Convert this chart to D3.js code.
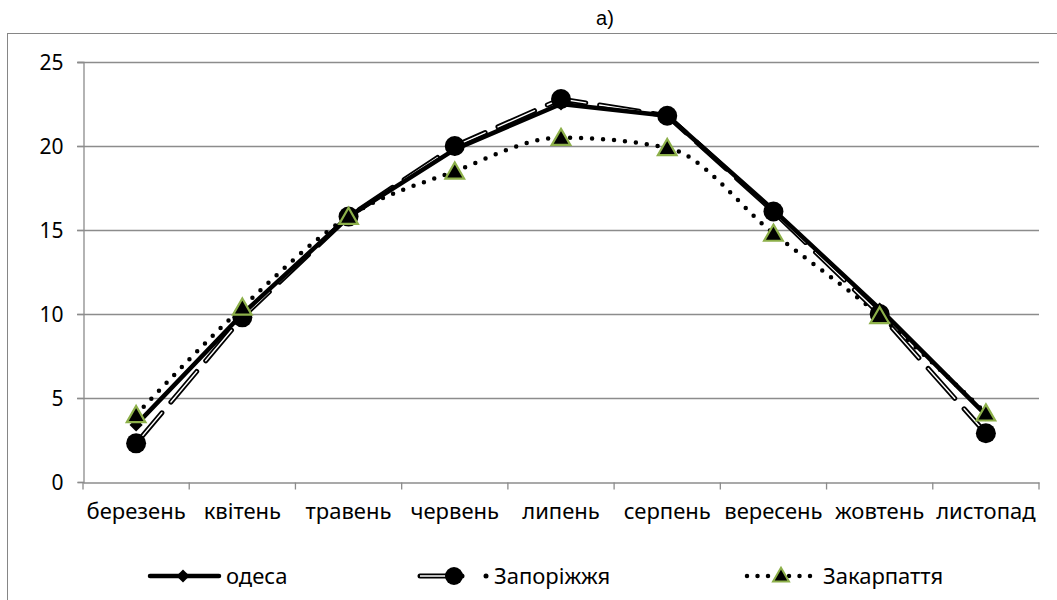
<!DOCTYPE html>
<html lang="uk">
<head>
<meta charset="UTF-8">
<title>а)</title>
<script src="https://cdnjs.cloudflare.com/ajax/libs/d3/7.8.5/d3.min.js"></script>
<style>
  body { margin: 0; background: #fff; }
  text { font-family: "Noto Sans", "Open Sans", sans-serif; fill: #000; }
</style>
</head>
<body>
<script>
    // chart data
    var months = ["березень", "квітень", "травень", "червень", "липень", "серпень", "вересень", "жовтень", "листопад"];
    var odesa = [3.4, 10.0, 15.8, 19.8, 22.5, 21.8, 16.2, 10.3, 4.0];
    var zaporizhzhia = [2.3, 9.8, 15.8, 20.0, 22.8, 21.8, 16.1, 10.0, 2.9];
    var zakarpattia = [4.0, 10.4, 15.8, 18.5, 20.5, 19.9, 14.8, 9.9, 4.1];
    var yTicks = [0, 5, 10, 15, 20, 25];

    var width = 1057, height = 600;
    var svg = d3.select("body").append("svg")
        .attr("width", width)
        .attr("height", height);

    // outer chart border
    svg.append("rect")
        .attr("x", 7.5).attr("y", 33.5)
        .attr("width", 1060).attr("height", 580)
        .attr("fill", "none").attr("stroke", "#868686").attr("stroke-width", 1);

    // title
    svg.append("text")
        .attr("x", 605).attr("y", 25)
        .attr("text-anchor", "middle")
        .style("font-family", "'Liberation Sans', Arial, sans-serif")
        .style("font-size", "20px")
        .text("а)");

    var plotLeft = 83, plotRight = 1039, plotTop = 62, plotBottom = 482;

    var x = d3.scaleBand().domain(months).range([plotLeft, plotRight]);
    var y = d3.scaleLinear().domain([0, 25]).range([plotBottom, plotTop]);

    // grid
    svg.append("g").selectAll("line")
        .data(yTicks.filter(function (d) { return d > 0; }))
        .enter().append("line")
        .attr("x1", plotLeft - 6).attr("x2", plotRight)
        .attr("y1", function (d) { return Math.round(y(d)) + 0.5; })
        .attr("y2", function (d) { return Math.round(y(d)) + 0.5; })
        .attr("stroke", "#8c8c8c").attr("stroke-width", 1.3);

    // y axis
    var yAxis = svg.append("g")
        .attr("transform", "translate(" + (plotLeft + 0.5) + ",0)")
        .call(d3.axisLeft(y).tickValues(yTicks).tickSize(6).tickPadding(14));
    yAxis.select(".domain").attr("stroke", "#8c8c8c").attr("stroke-width", 1.3);
    yAxis.selectAll(".tick line").attr("stroke", "#8c8c8c").attr("stroke-width", 1.3);
    yAxis.selectAll("text").style("font-size", "21px").attr("dy", "0.35em");

    // x axis
    var xAxis = svg.append("g")
        .attr("transform", "translate(0," + (plotBottom + 0.5) + ")")
        .call(d3.axisBottom(x).tickSize(0).tickPadding(21));
    xAxis.select(".domain").attr("stroke", "#8c8c8c").attr("stroke-width", 1.3);
    xAxis.selectAll("text").style("font-size", "22px");
    xAxis.append("g").selectAll("line")
        .data(months.concat(["end"]))
        .enter().append("line")
        .attr("x1", function (d, i) { return plotLeft + i * x.bandwidth(); })
        .attr("x2", function (d, i) { return plotLeft + i * x.bandwidth(); })
        .attr("y1", 0).attr("y2", 7)
        .attr("stroke", "#8c8c8c").attr("stroke-width", 1.3);

    function cx(i) { return x(months[i]) + x.bandwidth() / 2; }
    var line = d3.line()
        .x(function (d, i) { return cx(i); })
        .y(function (d) { return y(d); });
    var smooth = d3.line()
        .x(function (d, i) { return cx(i); })
        .y(function (d) { return y(d); })
        .curve(d3.curveMonotoneX);

    // Закарпаття - dotted, smoothed
    svg.append("path").attr("d", smooth(zakarpattia))
        .attr("fill", "none").attr("stroke", "#000").attr("stroke-width", 4.5)
        .attr("stroke-linecap", "round").attr("stroke-dasharray", "0 11");

    // Запоріжжя - long-dash double line
    svg.append("path").attr("d", line(zaporizhzhia))
        .attr("fill", "none").attr("stroke", "#000").attr("stroke-width", 5)
        .attr("stroke-linecap", "round").attr("stroke-dasharray", "40 14");
    svg.append("path").attr("d", line(zaporizhzhia))
        .attr("fill", "none").attr("stroke", "#fff").attr("stroke-width", 1.4)
        .attr("stroke-linecap", "round").attr("stroke-dasharray", "40 14");

    // одеса - thick solid
    svg.append("path").attr("d", line(odesa))
        .attr("fill", "none").attr("stroke", "#000").attr("stroke-width", 4.5)
        .attr("stroke-linejoin", "round");

    var diamond = d3.symbol().type(d3.symbolDiamond2).size(110);
    var triangle = d3.symbol().type(d3.symbolTriangle).size(150);

    svg.append("g").selectAll("path")
        .data(odesa).enter().append("path")
        .attr("d", diamond)
        .attr("transform", function (d, i) { return "translate(" + cx(i) + "," + y(d) + ")"; })
        .attr("fill", "#000");

    svg.append("g").selectAll("circle")
        .data(zaporizhzhia).enter().append("circle")
        .attr("cx", function (d, i) { return cx(i); })
        .attr("cy", function (d) { return y(d); })
        .attr("r", 10).attr("fill", "#000");

    svg.append("g").selectAll("path")
        .data(zakarpattia).enter().append("path")
        .attr("d", triangle)
        .attr("transform", function (d, i) { return "translate(" + cx(i) + "," + (y(d) + 2) + ")"; })
        .attr("fill", "#000").attr("stroke", "#8db04a").attr("stroke-width", 2.2);

    // legend
    var ly = 576;
    var lg = svg.append("g");
    lg.append("line").attr("x1", 150).attr("x2", 219).attr("y1", ly).attr("y2", ly)
        .attr("stroke", "#000").attr("stroke-width", 4.5).attr("stroke-linecap", "round");
    lg.append("path").attr("d", diamond).attr("transform", "translate(183," + ly + ")").attr("fill", "#000");
    lg.append("text").attr("x", 226).attr("y", ly).attr("dy", "0.35em").style("font-size", "22px").text("одеса");

    lg.append("line").attr("x1", 420).attr("x2", 462).attr("y1", ly).attr("y2", ly)
        .attr("stroke", "#000").attr("stroke-width", 5).attr("stroke-linecap", "round");
    lg.append("line").attr("x1", 420).attr("x2", 455).attr("y1", ly).attr("y2", ly)
        .attr("stroke", "#fff").attr("stroke-width", 1.4);
    lg.append("circle").attr("cx", 454).attr("cy", ly).attr("r", 9).attr("fill", "#000");
    lg.append("circle").attr("cx", 486).attr("cy", ly).attr("r", 2.5).attr("fill", "#000");
    lg.append("text").attr("x", 494).attr("y", ly).attr("dy", "0.35em").style("font-size", "22px").text("Запоріжжя");

    lg.append("line").attr("x1", 747).attr("x2", 811).attr("y1", ly).attr("y2", ly)
        .attr("stroke", "#000").attr("stroke-width", 4.5).attr("stroke-linecap", "round")
        .attr("stroke-dasharray", "0 10.5");
    lg.append("path").attr("d", d3.symbol().type(d3.symbolTriangle).size(110))
        .attr("transform", "translate(781," + (ly + 1) + ")")
        .attr("fill", "#000").attr("stroke", "#8db04a").attr("stroke-width", 2);
    lg.append("text").attr("x", 823).attr("y", ly).attr("dy", "0.35em").style("font-size", "22px").text("Закарпаття");
</script>
</body>
</html>
